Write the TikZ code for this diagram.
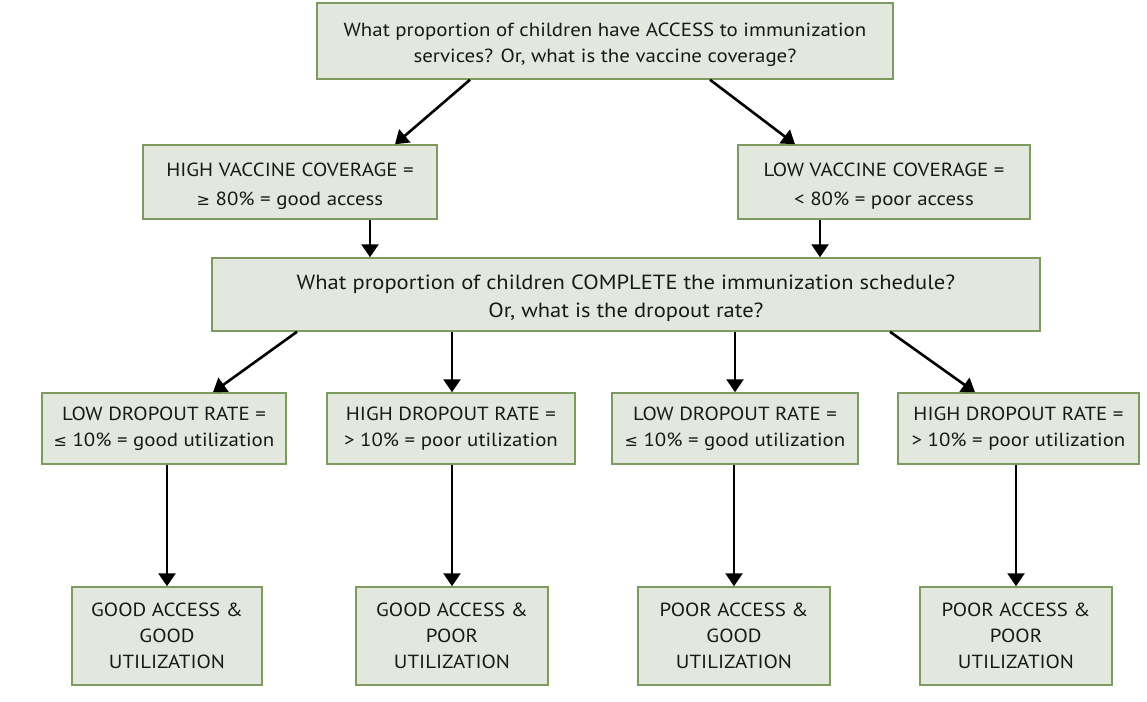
\documentclass[tikz,border=0pt]{standalone}
\usepackage{fontspec}
\setmainfont{PT Sans}[FakeStretch=1.1]
\newfontfamily\symfont{DejaVu Sans}
\usetikzlibrary{arrows.meta}
\definecolor{boxfill}{HTML}{E3E8DF}
\definecolor{boxline}{HTML}{7D9B5E}
\tikzset{
  box/.style={draw=boxline, fill=boxfill, line width=1.5pt, rectangle, align=center,
    inner sep=0pt, font=\fontsize{19}{26}\selectfont, text=black!90},
  conn/.style={line width=2.6pt, -{Triangle[width=17pt,length=13pt]}}
}
\newcommand{\mygeq}{{\symfont\fontsize{16}{16}\selectfont ≥}}
\newcommand{\myleq}{{\symfont\fontsize{16}{16}\selectfont ≤}}
\newcommand{\dnstrut}{\rule{0pt}{22pt}}
\begin{document}
\begin{tikzpicture}[x=1pt,y=-1pt]
\useasboundingbox (0,0) rectangle (1147,701);
\node[box, minimum width=576, minimum height=76] (top) at (605,41) {\dnstrut What proportion of children have ACCESS to immunization\\services? Or, what is the vaccine coverage?};
\node[box, minimum width=294, minimum height=74, font=\fontsize{19}{29}\selectfont] (high) at (290,182) {\dnstrut HIGH VACCINE COVERAGE =\\\mygeq{} 80\% = good access};
\node[box, minimum width=292, minimum height=74, font=\fontsize{19}{29}\selectfont] (low) at (884,182) {\dnstrut LOW VACCINE COVERAGE =\\< 80\% = poor access};
\node[box, minimum width=828, minimum height=73, font=\fontsize{20.5}{28}\selectfont] (mid) at (626,294.5) {\dnstrut What proportion of children COMPLETE the immunization schedule?\\Or, what is the dropout rate?};
\node[box, minimum width=244, minimum height=71] (ra) at (164,428.5) {LOW DROPOUT RATE =\\\myleq{} 10\% = good utilization};
\node[box, minimum width=248, minimum height=71] (rb) at (451,428.5) {HIGH DROPOUT RATE =\\> 10\% = poor utilization};
\node[box, minimum width=246, minimum height=71] (rc) at (735,428.5) {LOW DROPOUT RATE =\\\myleq{} 10\% = good utilization};
\node[box, minimum width=241, minimum height=71] (rd) at (1018.5,428.5) {HIGH DROPOUT RATE =\\> 10\% = poor utilization};
\node[box, minimum width=190, minimum height=98] (fa) at (167,636) {GOOD ACCESS \&\\GOOD\\UTILIZATION};
\node[box, minimum width=192, minimum height=98] (fb) at (452,636) {GOOD ACCESS \&\\POOR\\UTILIZATION};
\node[box, minimum width=192, minimum height=98] (fc) at (734,636) {POOR ACCESS \&\\GOOD\\UTILIZATION};
\node[box, minimum width=192, minimum height=98] (fd) at (1016,636) {POOR ACCESS \&\\POOR\\UTILIZATION};
\draw[conn] ([xshift=-135]top.south) -- ([xshift=105]high.north);
\draw[conn] ([xshift=105]top.south) -- ([xshift=-89]low.north);
\draw[conn] ([xshift=80]high.south) -- ([xshift=80]high.south |- mid.north);
\draw[conn] ([xshift=-64]low.south) -- ([xshift=-64]low.south |- mid.north);
\draw[conn] ([xshift=-329]mid.south) -- ([xshift=49]ra.north);
\draw[conn] ([xshift=-174]mid.south) -- ([xshift=-174]mid.south |- rb.north);
\draw[conn] ([xshift=109]mid.south) -- ([xshift=109]mid.south |- rc.north);
\draw[conn] ([xshift=264]mid.south) -- ([xshift=-43.5]rd.north);
\draw[conn] (ra.south -| fa.north) -- (fa.north);
\draw[conn] (rb.south -| fb.north) -- (fb.north);
\draw[conn] (rc.south -| fc.north) -- (fc.north);
\draw[conn] (rd.south -| fd.north) -- (fd.north);
\end{tikzpicture}
\end{document}
